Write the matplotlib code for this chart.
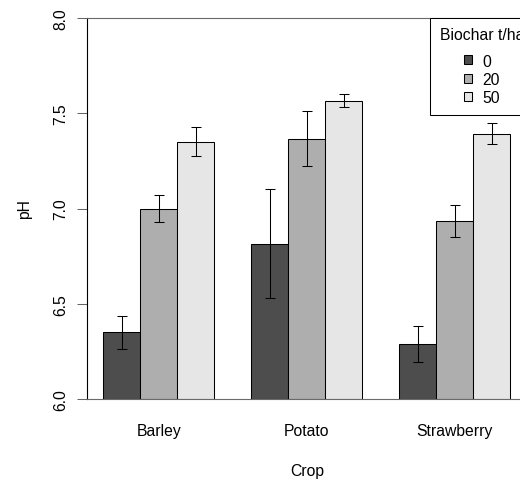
import numpy as np
import matplotlib.pyplot as plt
from matplotlib.patches import Patch

plt.rcParams['font.family'] = ['Liberation Sans', 'DejaVu Sans']

crops = ['Barley', 'Potato', 'Strawberry']
doses = ['0', '20', '50']
# mean pH per crop (rows) and biochar dose (columns)
ph_mean = np.array([[6.35, 7.00, 7.35],
                    [6.815, 7.367, 7.566],
                    [6.287, 6.935, 7.392]])
ph_err = np.array([[0.085, 0.072, 0.077],
                   [0.286, 0.145, 0.035],
                   [0.095, 0.085, 0.055]])
colors = ['#4D4D4D', '#AEAEAE', '#E6E6E6']

fig = plt.figure(figsize=(5.2, 4.81), dpi=100)
W, H = 520, 481
left, right, top, bottom = 87, 526.6, 19, 400
ax = fig.add_axes([left / W, 1 - bottom / H, (right - left) / W, (bottom - top) / H])

fs = 11.3
for i, dose in enumerate(doses):
    xs = 1 + 4 * np.arange(len(crops)) + i + 0.5
    ax.bar(xs, ph_mean[:, i] - 6.0, bottom=6.0, width=1.0, color=colors[i],
           edgecolor='black', linewidth=0.75, zorder=2)
    ax.errorbar(xs, ph_mean[:, i], yerr=ph_err[:, i], fmt='none', ecolor='black',
                elinewidth=0.75, capsize=3.6, capthick=0.75, zorder=3)

ax.set_xlim(0.56, 12.44)
ax.set_ylim(6.0, 8.0)
ax.set_yticks([6.0, 6.5, 7.0, 7.5, 8.0])
ax.set_yticklabels(['6.0', '6.5', '7.0', '7.5', '8.0'], rotation=90, va='center', fontsize=fs)
ax.tick_params(axis='y', length=7.2, width=0.75, color='#666666', pad=6.5)
ax.set_xticks(1 + 4 * np.arange(len(crops)) + 1.5)
ax.set_xticklabels(crops, fontsize=fs)
ax.tick_params(axis='x', length=0, pad=17)

ax.spines['left'].set_color('black')
ax.spines['left'].set_linewidth(0.8)
for s in ['top', 'bottom']:
    ax.spines[s].set_color('#6a6a6a')
    ax.spines[s].set_linewidth(0.8)
ax.spines['right'].set_visible(False)

ax.set_ylabel('pH', fontsize=fs)
ax.yaxis.set_label_coords(-0.125, 0.5)
ax.set_xlabel('Crop', fontsize=fs)
ax.xaxis.set_label_coords(0.5, -0.168)

handles = [Patch(facecolor=c, edgecolor='black', linewidth=0.75) for c in colors]
leg = ax.legend(handles, doses, title='Biochar t/ha', loc='upper right',
                bbox_to_anchor=(1.016, 1.0), borderaxespad=0, fontsize=fs,
                title_fontsize=fs, fancybox=False, edgecolor='black',
                framealpha=1, handlelength=0.5, handleheight=0.5,
                handletextpad=0.7, labelspacing=0.22, borderpad=0.6)
leg.get_frame().set_linewidth(0.75)
# wider gap between the title and the entries, as in the base-R legend
leg._legend_box.sep = 8.0

fig.savefig('out.png', dpi=100)
